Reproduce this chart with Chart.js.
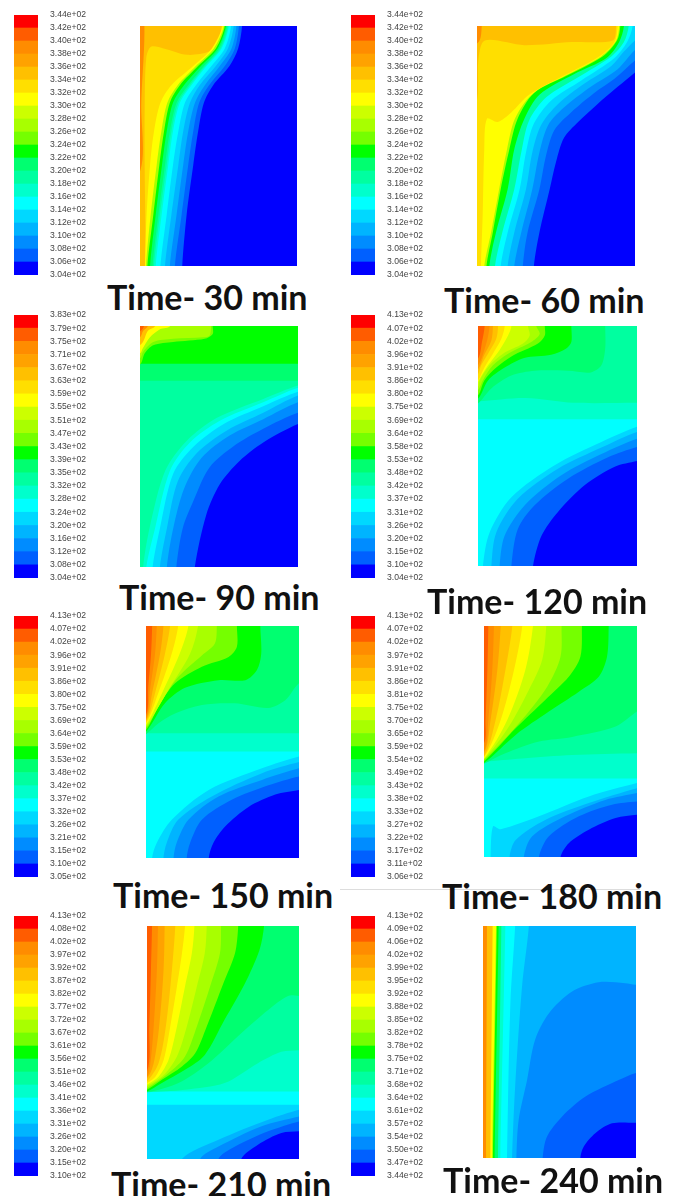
<!DOCTYPE html>
<html>
<head>
<meta charset="utf-8">
<title>Temperature contours</title>
<script src="https://cdn.jsdelivr.net/npm/chart.js@4/dist/chart.umd.min.js"></script>
<style>
    html, body { margin: 0; padding: 0; background: #fff; }
    #page { position: relative; width: 677px; height: 1196px; overflow: hidden; }
    canvas { position: absolute; filter: blur(0.4px); }
    .time { position: absolute; font: 700 34px Lato, sans-serif; color: #111; white-space: nowrap; transform: translateY(-50%); }
    #rule { position: absolute; left: 340px; top: 889px; width: 300px; height: 1px; background: #ddd; }
</style>
</head>
<body>
<div id="page"><div id="rule"></div></div>
<script>
/*global Chart*/
// colour levels, coldest first
var levelColors = ['#0000ff', '#0060ff', '#008cff', '#00b4ff', '#00d8ff', '#00ffff', '#00ffcc', '#00ffa0', '#00ff70', '#00ff00',
    '#75ff00', '#a8ff00', '#ccff00', '#ffff00', '#ffdf00', '#ffc000', '#ffa200', '#ff8c00', '#ff5c00', '#ff0000'];

// colour bar tick labels, top to bottom
var ticks30 = ['3.44e+02', '3.42e+02', '3.40e+02', '3.38e+02', '3.36e+02', '3.34e+02', '3.32e+02', '3.30e+02', '3.28e+02', '3.26e+02', '3.24e+02', '3.22e+02', '3.20e+02', '3.18e+02', '3.16e+02', '3.14e+02', '3.12e+02', '3.10e+02', '3.08e+02', '3.06e+02', '3.04e+02'];
var ticks60 = ticks30;
var ticks90 = ['3.83e+02', '3.79e+02', '3.75e+02', '3.71e+02', '3.67e+02', '3.63e+02', '3.59e+02', '3.55e+02', '3.51e+02', '3.47e+02', '3.43e+02', '3.39e+02', '3.35e+02', '3.32e+02', '3.28e+02', '3.24e+02', '3.20e+02', '3.16e+02', '3.12e+02', '3.08e+02', '3.04e+02'];
var ticks120 = ['4.13e+02', '4.07e+02', '4.02e+02', '3.96e+02', '3.91e+02', '3.86e+02', '3.80e+02', '3.75e+02', '3.69e+02', '3.64e+02', '3.58e+02', '3.53e+02', '3.48e+02', '3.42e+02', '3.37e+02', '3.31e+02', '3.26e+02', '3.20e+02', '3.15e+02', '3.10e+02', '3.04e+02'];
var ticks150 = ['4.13e+02', '4.07e+02', '4.02e+02', '3.96e+02', '3.91e+02', '3.86e+02', '3.80e+02', '3.75e+02', '3.69e+02', '3.64e+02', '3.59e+02', '3.53e+02', '3.48e+02', '3.42e+02', '3.37e+02', '3.32e+02', '3.26e+02', '3.21e+02', '3.15e+02', '3.10e+02', '3.05e+02'];
var ticks180 = ['4.13e+02', '4.07e+02', '4.02e+02', '3.97e+02', '3.91e+02', '3.86e+02', '3.81e+02', '3.75e+02', '3.70e+02', '3.65e+02', '3.59e+02', '3.54e+02', '3.49e+02', '3.43e+02', '3.38e+02', '3.33e+02', '3.27e+02', '3.22e+02', '3.17e+02', '3.11e+02', '3.06e+02'];
var ticks210 = ['4.13e+02', '4.08e+02', '4.02e+02', '3.97e+02', '3.92e+02', '3.87e+02', '3.82e+02', '3.77e+02', '3.72e+02', '3.67e+02', '3.61e+02', '3.56e+02', '3.51e+02', '3.46e+02', '3.41e+02', '3.36e+02', '3.31e+02', '3.26e+02', '3.20e+02', '3.15e+02', '3.10e+02'];
var ticks240 = ['4.13e+02', '4.09e+02', '4.06e+02', '4.02e+02', '3.99e+02', '3.95e+02', '3.92e+02', '3.88e+02', '3.85e+02', '3.82e+02', '3.78e+02', '3.75e+02', '3.71e+02', '3.68e+02', '3.64e+02', '3.61e+02', '3.57e+02', '3.54e+02', '3.50e+02', '3.47e+02', '3.44e+02'];

// contour regions on a 100 x 150 domain, flat x,y pairs, painted in list order
var levels30 = [14, 15, 17, 13, 11, 9, 8, 7, 6, 5, 4, 3, 2, 1, 0];
var regions30 = [
    [-20, -20, -20, 170, 120, 170, 120, -20],
    [-15, 165, 52, 165, 52, 150, 50, 140, 44, 134, 30, 132, 15, 136, 7, 137, 4, 130, 3, 100, 3, 60, 3.8, 0, 3.8, -15, -15, -15],
    [-15, 165, 1.2, 165, 0.8, 100, 0.3, 60, -15, 50],
    [52.5, 165, 52.5, 150, 45.8, 136, 33.9, 125, 20, 113, 13, 102, 8.9, 84, 6.4, 63, 4.2, 32, 3.2, 0, 3.2, -15, 120, -15, 120, 165],
    [53.4, 165, 53.4, 150, 47, 136, 35.6, 125, 24, 113, 17.4, 102, 13.6, 84, 10.6, 63, 6.8, 32, 3.8, 0, 3.8, -15, 120, -15, 120, 165],
    [54, 165, 54, 150, 48.3, 136, 37, 125, 25.4, 113, 19, 102, 15.3, 84, 12.3, 63, 8.5, 32, 4.7, 0, 4.7, -15, 120, -15, 120, 165],
    [54.7, 165, 54.7, 150, 49.4, 136, 38.8, 125, 28, 113, 21, 102, 17, 84, 14, 63, 10, 32, 6.4, 0, 6.4, -15, 120, -15, 120, 165],
    [55.3, 165, 55.3, 150, 50.4, 136, 40.7, 125, 30.7, 113, 23.3, 102, 19, 84, 15.9, 63, 11.7, 32, 8, 0, 8, -15, 120, -15, 120, 165],
    [56, 165, 56, 150, 51.3, 136, 41.5, 125, 31.8, 113, 24.4, 102, 20, 84, 17, 63, 12.7, 32, 8.9, 0, 8.9, -15, 120, -15, 120, 165],
    [56.6, 165, 56.6, 150, 52, 136, 42.4, 125, 32.8, 113, 25.4, 102, 21, 84, 18, 63, 13.8, 32, 10, 0, 10, -15, 120, -15, 120, 165],
    [58, 165, 58, 150, 54, 136, 45.5, 125, 35.6, 113, 28.6, 102, 24.4, 84, 21, 63, 17, 32, 13, 0, 13, -15, 120, -15, 120, 165],
    [59.7, 165, 59.7, 150, 56, 136, 48.3, 125, 38, 113, 31.8, 102, 27.5, 84, 24.4, 63, 20, 32, 15.9, 0, 15.9, -15, 120, -15, 120, 165],
    [61.4, 165, 61.4, 150, 58.3, 136, 50.8, 125, 41.3, 113, 35, 102, 30.7, 84, 27.5, 63, 23.3, 32, 19, 0, 19, -15, 120, -15, 120, 165],
    [63, 165, 63, 150, 60.4, 136, 54, 125, 44, 113, 37.7, 102, 33.9, 84, 30.7, 63, 26.5, 32, 22.2, 0, 22.2, -15, 120, -15, 120, 165],
    [65, 165, 65, 150, 62.5, 136, 57, 125, 46.6, 113, 40.7, 102, 37, 84, 33.9, 63, 29.7, 32, 26.9, 0, 26.9, -15, 120, -15, 120, 165]
];

var levels60 = [14, 15, 17, 13, 11, 9, 7, 5, 4, 3, 2, 1, 0];
var regions60 = [
    [-20, -20, -20, 170, 120, 170, 120, -20],
    [-15, 165, 88, 165, 88, 150, 86, 141, 60, 140, 30, 138, 5, 141, 1, 130, -1, 100, -15, 90],
    [-15, 165, 3, 165, 3, 150, 1, 140, -15, 130],
    [89, 165, 89, 150, 87, 140, 77.4, 131, 55, 119, 33, 107, 21.7, 96, 13, 90, 6.3, 92, 4.6, 73, 3.6, 32, 2.5, 0, 2.5, -15, 120, -15, 120, 165],
    [90, 165, 90, 150, 87.8, 140.4, 78.5, 131, 56, 119, 34.6, 107, 24, 92, 19, 73, 14, 48, 8.9, 21, 4.6, 0, 4.6, -15, 120, -15, 120, 165],
    [90.7, 165, 90.7, 150, 88.6, 141, 79.5, 131, 57, 119, 36, 108, 25.7, 92, 20.5, 73, 15, 48, 10, 21, 6, 0, 6, -15, 120, -15, 120, 165],
    [93, 165, 93, 150, 90, 140, 82, 130, 61.6, 120, 39.5, 107, 30, 92, 23.6, 73, 19.4, 48, 12, 21, 7.8, 0, 7.8, -15, 120, -15, 120, 165],
    [96, 165, 96, 150, 93, 140, 85, 131, 64, 118, 44, 105.6, 33, 91, 28, 71, 23.6, 48, 16, 21, 11.4, 0, 11.4, -15, 120, -15, 120, 165],
    [98.5, 165, 98.5, 150, 95, 140, 87, 130, 66, 116, 47, 103.5, 36, 89, 31, 71, 27, 48, 19.4, 21, 15, 0, 15, -15, 120, -15, 120, 165],
    [120, 155, 100, 141, 93, 134, 85, 125, 68, 114, 51, 101, 40.5, 88, 35, 71, 31, 48, 23.6, 21, 19.4, 0, 19.4, -15, 120, -15],
    [120, 150, 100, 135, 89, 123, 72, 112, 55, 99, 45, 88, 39.5, 71, 35, 48, 28, 21, 23.6, 0, 23.6, -15, 120, -15],
    [120, 143, 100, 128.5, 87, 117, 74, 108, 59.5, 96, 49, 85, 43.7, 69, 39.5, 48, 32, 21, 29, 0, 29, -15, 120, -15],
    [120, 136, 100, 121, 89, 112, 76, 101, 64, 90, 55, 80, 50, 65, 46, 48, 39.5, 21, 36, 0, 36, -15, 120, -15]
];

var levels90 = [7, 8, 9, 10, 11, 13, 15, 17, 18, 6, 5, 4, 3, 2, 1, 0];
var regions90 = [
    [-20, -20, -20, 170, 120, 170, 120, -20],
    [-20, 116, 0, 116, 100, 116, 120, 116, 120, 170, -20, 170],
    [-20, 126.5, 0, 126.5, 100, 126.5, 120, 126.5, 120, 170, -20, 170],
    [46, 165, 46, 150, 46, 145, 41, 142, 21, 140, 8.4, 138, 3, 133, 0, 126, -15, 120, -15, 165],
    [45, 165, 45, 150, 44, 144, 40, 143, 21, 142, 8.4, 140, 2, 134, 0, 130, -15, 125, -15, 165],
    [19, 165, 19, 150, 12.6, 148, 6.3, 143, 1.7, 136, 0, 133, -15, 130, -15, 165],
    [9.5, 165, 9.5, 150, 5, 147, 1, 139, -15, 130, -15, 165],
    [5, 165, 5, 150, 2, 147, 0, 143, -15, 135, -15, 165],
    [2.5, 165, 2.5, 150, 0.4, 147, -15, 140, -15, 165],
    [120, 117, 100, 113, 78, 104.6, 48.4, 92.7, 29.5, 78.5, 16, 60, 6, 24, 2, 0, 2, -15, 120, -15],
    [120, 116, 100, 111.5, 78, 102.5, 50.5, 91, 31.6, 77.5, 19, 60, 9.5, 24, 4, 0, 4, -15, 120, -15],
    [120, 113, 100, 109, 78, 100, 53, 89, 34, 75, 21, 58, 12.6, 24, 8, 0, 8, -15, 120, -15],
    [120, 111, 100, 106.7, 78, 96, 55, 85, 36, 71, 24, 53.5, 17, 24, 12.6, 0, 12.6, -15, 120, -15],
    [120, 107, 100, 102.5, 78, 92, 57, 82, 39, 68, 28, 49, 21, 24, 17, 0, 17, -15, 120, -15],
    [120, 100, 100, 96, 78, 86, 59, 75, 44, 62, 33.7, 41, 27, 24, 23, 0, 23, -15, 120, -15],
    [120, 95, 100, 89, 78, 77.5, 63, 66, 50.5, 51.5, 42, 32.7, 34.7, 0, 34.7, -15, 120, -15]
];

var levels120 = [5, 6, 7, 8, 9, 10, 11, 12, 13, 14, 15, 16, 17, 18, 4, 3, 2, 1, 0];
var regions120 = [
    [-20, -20, -20, 170, 120, 170, 120, -20],
    [-20, 91.7, 0, 91.7, 100, 91.7, 120, 91.7, 120, 170, -20, 170],
    [-20, 103, 0, 103, 30, 105, 60, 102, 100, 102, 120, 102, 120, 170, -20, 170],
    [80, 165, 80, 150, 80, 136, 77.6, 125.4, 71, 121, 56.6, 122, 35.6, 122, 21, 119, 8.4, 111, 0, 101.5, -15, 90, -15, 165],
    [58.7, 165, 58.7, 150, 58.7, 140, 55.5, 136, 46, 132, 29, 130, 16.8, 124, 6.3, 116, 0, 104.6, -15, 95, -15, 165],
    [42, 165, 42, 150, 42, 144, 37.7, 139, 21, 131, 11.5, 124, 4, 116, 0, 106.7, -15, 95, -15, 165],
    [36.7, 165, 36.7, 150, 38.8, 145, 33.5, 140, 18.9, 132.7, 9.4, 125.4, 3, 116, 0, 110, -15, 100, -15, 165],
    [31.4, 165, 31.4, 150, 32.5, 144, 28.3, 139, 15.7, 132.7, 7.3, 125.4, 1, 116, 0, 112, -15, 100, -15, 165],
    [21, 165, 21, 150, 18.9, 144, 13.6, 135, 6.3, 125.4, 1, 117, 0, 115, -15, 100, -15, 165],
    [16.8, 165, 16.8, 150, 14.7, 142, 9.4, 132.7, 4.2, 124.4, 0, 116, -15, 100, -15, 165],
    [12.6, 165, 12.6, 150, 11.5, 142, 6.3, 132.7, 2, 125.4, 0, 120, -15, 105, -15, 165],
    [9.4, 165, 9.4, 150, 8.4, 141, 3.8, 131.7, 0, 123, -15, 110, -15, 165],
    [7.3, 165, 7.3, 150, 5.2, 139, 0, 125.4, -15, 110, -15, 165],
    [4.2, 165, 4.2, 150, 2.5, 140, 0, 129.6, -15, 115, -15, 165],
    [120, 92, 100, 87, 77.6, 77.5, 48.2, 63, 21, 43, 7.3, 21, 3.1, 0, 3.1, -15, 120, -15],
    [120, 88, 100, 83.8, 77.6, 74, 50.3, 60.8, 25, 42, 11.5, 21, 8.4, 0, 8.4, -15, 120, -15],
    [120, 84, 100, 79.6, 77.6, 70, 52.4, 56.7, 29.4, 38, 16.8, 19, 13.6, 0, 13.6, -15, 120, -15],
    [120, 79, 100, 74.4, 81.8, 68, 56.6, 54.6, 35.6, 38, 25, 23, 21, 0, 21, -15, 120, -15],
    [120, 70, 100, 65.6, 86, 62, 67, 50.4, 50.3, 33.8, 40, 19, 34.6, 0, 34.6, -15, 120, -15]
];

var levels150 = [5, 6, 7, 8, 9, 10, 11, 12, 13, 14, 15, 16, 17, 18, 4, 3, 2, 1, 0];
var regions150 = [
    [-20, -20, -20, 170, 120, 170, 120, -20],
    [-20, 68.8, 0, 68.8, 100, 68.8, 120, 68.8, 120, 170, -20, 170],
    [-20, 80.6, 0, 80.6, 100, 80.6, 120, 80.6, 120, 170, -20, 170],
    [120, 125, 100, 113, 91, 102, 80, 97, 58, 100, 36.5, 99, 19, 93.5, 8, 87, 0, 80, -15, 70, -15, 165, 120, 165],
    [74.7, 165, 74.7, 150, 75.3, 132, 72.5, 121.5, 65, 115, 47.4, 115, 25.5, 110, 12.4, 100, 0, 81.7, -15, 70, -15, 165],
    [59.4, 165, 59.4, 150, 59.4, 136.6, 54, 130, 36.5, 123.7, 19, 113, 8, 98, 0, 82.8, -15, 70, -15, 165],
    [46.3, 165, 46.3, 150, 45, 138.7, 36.5, 131, 21, 117, 10, 101, 0, 84, -15, 70, -15, 165],
    [34, 165, 34, 150, 28.8, 132, 14.6, 108.6, 0, 85, -15, 70, -15, 165],
    [27.7, 165, 27.7, 150, 22, 132, 11.4, 108.6, 0, 86, -15, 70, -15, 165],
    [21, 165, 21, 150, 16.8, 132, 8, 106.5, 0, 87, -15, 70, -15, 165],
    [15.7, 165, 15.7, 150, 12.4, 132, 5.9, 106.5, 0, 88, -15, 70, -15, 165],
    [11.4, 165, 11.4, 150, 9.2, 132, 4, 106.5, 0, 89, -15, 70, -15, 165],
    [7, 165, 7, 150, 5.9, 132, 2.6, 108.6, 0, 90, -15, 70, -15, 165],
    [4, 165, 4, 150, 3.3, 132, 1.5, 110.7, 0, 92.5, -15, 75, -15, 165],
    [120, 70, 100, 65.6, 75.8, 58, 41, 44, 16.8, 24.7, 7, 9.7, 4, 0, 4, -15, 120, -15],
    [120, 66, 100, 62, 75.8, 54.8, 43, 39.8, 21, 24.7, 13.5, 9.7, 11.4, 0, 11.4, -15, 120, -15],
    [120, 62, 100, 58, 75.8, 50.5, 47.4, 39.8, 27.7, 24.7, 20, 9.7, 18, 0, 18, -15, 120, -15],
    [120, 56, 100, 52.7, 80, 47, 56, 37.6, 36.5, 24.7, 28.8, 9.7, 26.6, 0, 26.6, -15, 120, -15],
    [120, 47, 100, 44, 84.5, 41, 67, 33, 51.7, 20.4, 44, 9.7, 41, 0, 41, -15, 120, -15]
];

var levels180 = [5, 6, 7, 8, 9, 10, 11, 12, 13, 14, 15, 16, 17, 18, 4, 3, 2, 1, 0];
var regions180 = [
    [-20, -20, -20, 170, 120, 170, 120, -20],
    [-20, 51, 0, 51, 100, 51, 120, 51, 120, 170, -20, 170],
    [-20, 61, 0, 62, 25, 64, 57.6, 66.3, 100, 67.4, 120, 68, 120, 170, -20, 170],
    [120, 106, 100, 94.4, 86, 84.7, 57.6, 78, 36, 75, 14, 67.4, 0, 60.5, -15, 52, -15, 165, 120, 165],
    [81.5, 165, 81.5, 150, 80.4, 130, 75, 117, 62, 107.3, 42.4, 94.4, 20.7, 79.3, 0, 61, -15, 52, -15, 165],
    [64, 165, 64, 150, 63, 130, 55.4, 117, 40, 102, 20.7, 83.6, 0, 62, -15, 52, -15, 165],
    [50.7, 165, 50.7, 150, 50, 130, 41.3, 110.6, 22.8, 86.8, 0, 63, -15, 52, -15, 165],
    [40.7, 165, 40.7, 150, 38, 127.9, 29.3, 108.4, 16.3, 84.7, 0, 63.5, -15, 52, -15, 165],
    [32, 165, 32, 150, 27, 121.4, 15.2, 89, 0, 64, -15, 52, -15, 165],
    [25, 165, 25, 150, 19.6, 121.4, 10.9, 89, 0, 64.8, -15, 52, -15, 165],
    [18.5, 165, 18.5, 150, 14, 121.4, 7.6, 89, 0, 65.2, -15, 52, -15, 165],
    [10.9, 165, 10.9, 150, 8.7, 121.4, 4.3, 89, 0, 67.4, -15, 55, -15, 165],
    [6.5, 165, 6.5, 150, 5.4, 121.4, 2.8, 89, 0, 68.5, -15, 55, -15, 165],
    [2.8, 165, 2.8, 150, 2.2, 121.4, 1, 89, 0, 73.9, -15, 60, -15, 165],
    [120, 52, 100, 48, 68.5, 39.3, 35.9, 26.4, 10.9, 18, 5.9, 19.9, 4.3, 0, 4.3, -15, 120, -15],
    [120, 49, 100, 44.7, 68.5, 35, 40, 24, 20.7, 11, 16.7, 0, 16.7, -15, 120, -15],
    [120, 46, 100, 41.5, 79.3, 37, 53, 26.4, 31.5, 13.4, 26, 0, 26, -15, 120, -15],
    [120, 38, 100, 36, 83.7, 34, 62, 26.4, 42.4, 13.4, 35.9, 0, 35.9, -15, 120, -15],
    [120, 29, 100, 27.4, 86, 25.3, 68.5, 17.7, 55.4, 9, 50, 0, 50, -15, 120, -15]
];

var levels210 = [4, 5, 6, 7, 8, 9, 10, 11, 12, 13, 14, 15, 16, 17, 18, 3, 2, 1, 0];
var regions210 = [
    [-20, -20, -20, 170, 120, 170, 120, -20],
    [-20, 35, 0, 35, 100, 35, 120, 35, 120, 170, -20, 170],
    [-20, 43.5, 0, 43.5, 100, 43.5, 120, 43.5, 120, 170, -20, 170],
    [120, 72, 100, 70, 88.4, 69, 73, 61.7, 51, 48.9, 25, 44.6, 0, 43, -15, 43, -15, 165, 120, 165],
    [120, 105, 100, 105, 92.8, 105, 79.7, 96, 62, 81, 40.4, 61.7, 20.7, 48.9, 0, 43, -15, 43, -15, 165, 120, 165],
    [77, 165, 77, 150, 74, 134.6, 64.4, 113, 51, 89.6, 38, 67, 25, 57.4, 9.8, 49, 0, 43.5, -15, 38, -15, 165],
    [60, 165, 60, 150, 57.9, 132.4, 50.2, 113, 39.3, 85.3, 31.7, 68, 23, 59.6, 9.8, 51, 0, 44.6, -15, 38, -15, 165],
    [48.7, 165, 48.7, 150, 48, 132.4, 41.5, 111, 32.8, 85.3, 25, 66, 14.2, 55.3, 0, 45.6, -15, 38, -15, 165],
    [39.3, 165, 39.3, 150, 38, 132.4, 32.8, 111, 26.2, 85.3, 19.7, 66, 11, 54, 0, 46.7, -15, 38, -15, 165],
    [31.2, 165, 31.2, 150, 29.5, 132.4, 25, 111, 19.7, 85.3, 14.2, 63.9, 7.6, 53, 0, 47.8, -15, 38, -15, 165],
    [25, 165, 25, 150, 23, 132.4, 19.7, 111, 15.3, 85.3, 11, 63.9, 5.5, 53, 0, 48.9, -15, 38, -15, 165],
    [18.6, 165, 18.6, 150, 16.4, 121.7, 12.4, 85.3, 7.6, 61.7, 0, 50, -15, 38, -15, 165],
    [11.6, 165, 11.6, 150, 10.9, 121.7, 8, 85.3, 4.4, 61.7, 0, 52, -15, 40, -15, 165],
    [7.2, 165, 7.2, 150, 6.5, 121.7, 4.4, 85.3, 2.2, 61.7, 0, 53, -15, 40, -15, 165],
    [3.3, 165, 3.3, 150, 2.6, 121.7, 1.5, 85.3, 0, 56.4, -15, 45, -15, 165],
    [120, 36, 100, 31.7, 79.7, 25.3, 47, 12.4, 23, 0, 23, -15, 120, -15],
    [120, 32, 100, 27.4, 75, 21, 47, 8, 35, 0, 35, -15, 120, -15],
    [120, 28, 100, 24.2, 79.7, 17.8, 57.9, 8, 47, 0, 47, -15, 120, -15],
    [120, 19, 100, 17.8, 88.4, 16.7, 73, 9.2, 62, 0, 62, -15, 120, -15]
];

var levels240 = [3, 4, 5, 6, 8, 9, 11, 13, 15, 17, 2, 1, 0];
var regions240 = [
    [-20, -20, -20, 170, 120, 170, 120, -20],
    [30, 165, 30, 150, 25.5, 110.8, 21, 46, 19, 0, 19, -15, -15, -15, -15, 165],
    [21, 165, 21, 150, 17.9, 100, 15.7, 0, 15.7, -15, -15, -15, -15, 165],
    [14.6, 165, 14.6, 150, 11.3, 0, 11.3, -15, -15, -15, -15, 165],
    [12, 165, 12, 150, 9.8, 0, 9.8, -15, -15, -15, -15, 165],
    [10.2, 165, 10.2, 150, 7.6, 0, 7.6, -15, -15, -15, -15, 165],
    [9, 165, 9, 150, 6.5, 0, 6.5, -15, -15, -15, -15, 165],
    [8.5, 165, 8.5, 150, 5.9, 0, 5.9, -15, -15, -15, -15, 165],
    [6.3, 165, 6.3, 150, 4.8, 0, 4.8, -15, -15, -15, -15, 165],
    [2.6, 165, 2.6, 150, 2, 0, 2, -15, -15, -15, -15, 165],
    [120, 114, 100, 112, 93, 113, 75.6, 113.6, 58, 107.5, 43, 93.5, 34, 76.3, 28.8, 50.4, 23.3, 24.6, 21.8, 0, 21.8, -15, 120, -15],
    [120, 58, 100, 55, 88.7, 50.4, 67, 39.7, 51.6, 26.7, 41.8, 13.8, 39, 0, 39, -15, 120, -15],
    [120, 23, 100, 22.8, 84.3, 22.4, 73.4, 16, 65.8, 7.3, 63.6, 0, 63.6, -15, 120, -15]
];

var titles = ['Time- 30 min', 'Time- 60 min', 'Time- 90 min', 'Time- 120 min', 'Time- 150 min', 'Time- 180 min', 'Time- 210 min', 'Time- 240 min'];

// page layout: plot box, colour bar box, title anchor
var layouts = [
    {plot: [140, 26, 157, 240], bar: [14, 15, 260], title: [107, 296]},
    {plot: [477, 26, 158, 240], bar: [351, 15, 260], title: [444, 299]},
    {plot: [140, 326, 158, 241], bar: [14, 315, 263], title: [119, 596]},
    {plot: [478, 326, 159, 240], bar: [351, 315, 263], title: [427, 600]},
    {plot: [146, 626, 153, 232], bar: [14, 616, 261], title: [113, 894]},
    {plot: [484, 626, 153, 231], bar: [351, 616, 261], title: [442, 895]},
    {plot: [147, 926, 152, 233], bar: [14, 916, 260], title: [111, 1183]},
    {plot: [483, 926, 153, 232], bar: [351, 916, 260], title: [443, 1179]}
];

var page = document.getElementById('page');

function addCanvas(left, top, width, height) {
    var c = document.createElement('canvas');
    c.width = width;
    c.height = height;
    c.style.left = left + 'px';
    c.style.top = top + 'px';
    page.appendChild(c);
    return c;
}

function toPoints(flat) {
    var pts = [], i;
    for (i = 0; i < flat.length; i += 2) {
        pts.push({x: flat[i], y: flat[i + 1]});
    }
    return pts;
}

function drawContours(box, levels, regions) {
    // chart.js paints the first dataset last, so hand them over reversed
    var datasets = regions.map(function (flat, i) {
        return {
            data: toPoints(flat),
            showLine: true,
            fill: 'shape',
            backgroundColor: levelColors[levels[i]],
            borderWidth: 0,
            pointRadius: 0,
            tension: 0.3
        };
    }).reverse();

    return new Chart(addCanvas(box[0], box[1], box[2], box[3]), {
        type: 'scatter',
        data: {datasets: datasets},
        options: {
            responsive: false,
            animation: false,
            events: [],
            layout: {padding: 0},
            elements: {line: {capBezierPoints: false}},
            plugins: {legend: {display: false}, tooltip: {enabled: false}, filler: {drawTime: 'beforeDraw'}},
            scales: {
                x: {type: 'linear', min: 0, max: 100, display: false},
                y: {type: 'linear', min: 0, max: 150, display: false}
            }
        }
    });
}

function drawBar(box, labels) {
    var pad = 6,
        datasets = levelColors.map(function (color) {
            return {data: [1], backgroundColor: color, barPercentage: 1, categoryPercentage: 1};
        });

    return new Chart(addCanvas(box[0], box[1] - pad, 80, box[2] + pad * 2), {
        type: 'bar',
        data: {labels: [''], datasets: datasets},
        options: {
            responsive: false,
            animation: false,
            events: [],
            layout: {padding: {top: pad, bottom: pad, left: 0, right: 0}, autoPadding: false},
            plugins: {legend: {display: false}, tooltip: {enabled: false}},
            scales: {
                x: {stacked: true, display: false},
                y: {
                    stacked: true,
                    position: 'right',
                    min: 0,
                    max: 20,
                    grid: {display: false, drawTicks: false},
                    border: {display: false},
                    afterFit: function (scale) {
                        scale.width = 56;
                        scale.paddingTop = 0;
                        scale.paddingBottom = 0;
                    },
                    ticks: {
                        stepSize: 1,
                        autoSkip: false,
                        padding: 12,
                        color: '#444',
                        font: {family: 'Liberation Sans', size: 8.6},
                        callback: function (value) {
                            return labels[20 - value];
                        }
                    }
                }
            }
        }
    });
}

var allLevels = [levels30, levels60, levels90, levels120, levels150, levels180, levels210, levels240];
var allRegions = [regions30, regions60, regions90, regions120, regions150, regions180, regions210, regions240];
var allTicks = [ticks30, ticks60, ticks90, ticks120, ticks150, ticks180, ticks210, ticks240];

layouts.forEach(function (layout, i) {
    var t = document.createElement('div');
    drawContours(layout.plot, allLevels[i], allRegions[i]);
    drawBar(layout.bar, allTicks[i]);
    t.className = 'time';
    t.textContent = titles[i];
    t.style.left = layout.title[0] + 'px';
    t.style.top = layout.title[1] + 'px';
    page.appendChild(t);
});
</script>
</body>
</html>
